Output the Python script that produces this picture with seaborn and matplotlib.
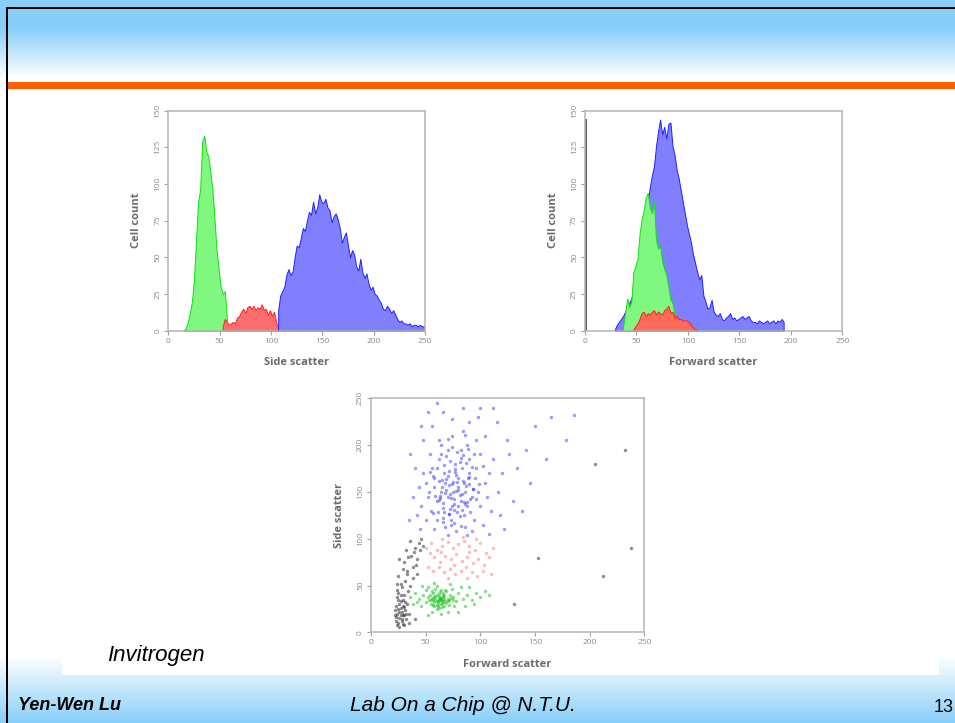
import numpy as np
import seaborn as sns
import matplotlib.pyplot as plt
from matplotlib.patches import Rectangle

sns.set_style("white")
plt.rcParams['font.family'] = ['Open Sans', 'DejaVu Sans']

# ---- histogram data (bin start, counts every 2 channels) ----
ssc_green_start = 14
ssc_green = [0, 2, 6, 12, 20, 35, 62, 88, 96, 129, 133, 122, 119, 108, 96, 76, 55, 42, 30, 25, 27, 9]
ssc_red_start = 52
ssc_red = [3, 8, 6, 4, 5, 6, 5, 9, 10, 13, 15, 12, 16, 17, 15, 17, 14, 16, 15, 18, 14, 15, 11, 14,
           10, 13, 6, 2]
ssc_blue_start = 106
ssc_blue = [14, 24, 27, 30, 38, 42, 38, 40, 50, 58, 57, 63, 70, 68, 75, 81, 79, 88, 80, 84, 93, 88,
            87, 90, 84, 82, 74, 78, 80, 76, 70, 60, 64, 67, 58, 50, 55, 52, 44, 41, 49, 40, 36, 39,
            32, 28, 30, 25, 24, 21, 19, 15, 14, 17, 15, 12, 14, 11, 8, 6, 7, 5, 5, 4, 5, 3, 4, 4,
            3, 4, 3, 3]

fsc_grey_start = 0
fsc_grey = [144]
fsc_blue_start = 28
fsc_blue = [1, 4, 6, 8, 10, 13, 16, 19, 22, 28, 32, 38, 46, 55, 66, 76, 88, 98, 106, 112, 126, 136,
            144, 134, 139, 131, 141, 142, 126, 120, 110, 104, 96, 88, 80, 72, 66, 60, 52, 46, 40, 35,
            38, 24, 20, 15, 16, 21, 13, 11, 10, 12, 8, 7, 9, 10, 12, 8, 9, 7, 8, 9, 10, 8, 9, 10, 7,
            6, 6, 5, 7, 6, 5, 6, 7, 5, 6, 7, 5, 7, 6, 8, 6]
fsc_green_start = 36
fsc_green = [3, 12, 22, 16, 20, 40, 44, 49, 66, 76, 82, 91, 94, 84, 80, 88, 62, 56, 58, 47, 42, 38,
             30, 21, 19, 11, 4]
fsc_red_start = 46
fsc_red = [1, 3, 5, 8, 12, 13, 10, 12, 11, 13, 14, 11, 13, 12, 11, 14, 15, 17, 12, 13, 9, 10, 8, 8,
           7, 7, 7, 6, 4, 2, 1, 1]

# ---- dot plot data (forward scatter, side scatter) ----
blue_x = [75, 70, 80, 68, 82, 72, 78, 64, 86, 74, 66, 84, 76, 71, 88, 62, 79, 90, 69, 81, 73, 77, 60,
          92, 67, 85, 74, 83, 58, 95, 55, 98, 62, 90, 50, 100, 66, 86, 56, 96, 70, 82, 52, 104, 60, 94,
          78, 64, 88, 48, 106, 54, 100, 74, 58, 92, 46, 108, 68, 84, 50, 110, 62, 96, 44, 102, 40, 112,
          56, 90, 74, 42, 116, 48, 104, 66, 84, 120, 38, 118, 52, 98, 108, 60, 126, 36, 70, 130, 45,
          124, 134, 88, 115, 142, 145, 150, 165, 178, 122, 35, 138, 160, 100, 46, 112, 186,
          72, 80, 63, 87, 76, 69, 83, 65, 91, 59, 79, 71, 93, 57, 85, 77, 67, 81, 73, 89,
          61, 66, 71, 76, 81, 86, 91, 63, 68, 73, 78, 83, 88, 93, 65, 70, 75, 80, 85, 90, 60, 67, 72,
          77, 82, 87, 92, 64, 69, 74, 79, 84, 89, 62, 71, 80, 58, 96, 54, 99, 57, 94, 53, 102, 70, 86,
          76, 66, 82, 90]
blue_y = [150, 145, 155, 160, 140, 132, 168, 150, 150, 158, 138, 162, 142, 172, 135, 162, 128, 158,
          152, 147, 120, 180, 140, 145, 170, 125, 135, 175, 155, 165, 130, 150, 185, 185, 160, 135,
          118, 112, 175, 175, 195, 195, 145, 160, 120, 120, 108, 200, 200, 170, 145, 190, 190, 210,
          110, 108, 135, 170, 112, 215, 120, 130, 205, 205, 155, 115, 175, 185, 220, 225, 228, 125,
          150, 205, 210, 235, 240, 170, 145, 125, 235, 230, 105, 245, 190, 190, 104, 140, 110, 205,
          175, 104, 225, 195, 160, 220, 230, 205, 110, 120, 130, 185, 240, 220, 240, 232,
          148, 152, 143, 156, 137, 164, 131, 155, 142, 146, 161, 126, 153, 167, 139, 171, 128, 182,
          115, 165,
          128, 133, 126, 131, 124, 137, 129, 146, 149, 144, 151, 148, 139, 153, 163, 167, 161, 165,
          159, 170, 176, 179, 183, 174, 186, 181, 177, 191, 188, 198, 193, 189, 196, 141, 157, 135,
          165, 142, 171, 158, 127, 190, 150, 178, 206, 211, 117, 122, 114, 166]
red_x = [55, 60, 65, 70, 75, 80, 85, 90, 95, 100, 105, 58, 63, 68, 73, 78, 83, 88, 93, 98, 103, 108,
         52, 57, 62, 67, 72, 77, 82, 87, 92, 97, 102, 110, 54, 65, 84, 96, 70, 88, 50, 112, 76, 64, 90]
red_y = [95, 88, 92, 96, 90, 94, 98, 92, 88, 95, 85, 80, 75, 82, 78, 84, 76, 80, 74, 78, 72, 80, 70,
         66, 70, 64, 68, 62, 66, 70, 64, 60, 66, 62, 85, 100, 102, 100, 58, 58, 90, 90, 72, 86, 86]
green_x = [62, 58, 66, 60, 64, 56, 68, 61, 63, 55, 70, 59, 65, 57, 67, 53, 72, 60, 64, 69, 62, 58, 66,
           54, 71, 50, 75, 48, 78, 52, 74, 46, 80, 56, 70, 44, 84, 60, 76, 50, 88, 42, 82, 64, 92, 47,
           86, 40, 96, 58, 72, 38, 100, 90, 80, 104, 36, 108, 52, 94,
           61, 63, 59, 65, 57, 67, 62, 60, 64, 66,
           55, 58, 61, 64, 67, 70, 73, 57, 60, 63, 66, 69, 52, 75, 62, 59, 65, 68, 56, 71]
green_y = [35, 32, 38, 40, 30, 37, 33, 28, 43, 30, 36, 36, 34, 42, 28, 35, 40, 25, 45, 31, 38, 28, 42,
           40, 34, 32, 38, 40, 33, 48, 46, 28, 42, 22, 22, 36, 36, 50, 28, 45, 40, 32, 48, 20, 35, 50,
           28, 42, 42, 53, 52, 30, 38, 48, 22, 44, 38, 40, 18, 30,
           33, 37, 39, 31, 34, 36, 41, 29, 35, 39,
           34, 38, 31, 36, 40, 33, 37, 29, 33, 37, 32, 44, 38, 34, 26, 46, 27, 45, 44, 29]
black_x = [24, 26, 28, 25, 27, 23, 29, 26, 30, 24, 28, 31, 25, 27, 23, 32, 26, 29, 24, 30, 33, 28, 35,
           22, 27, 31, 25, 29, 33, 36, 30, 34, 26, 38, 40, 32, 44, 42, 36, 46, 48, 38, 24, 42, 35, 40,
           30, 23, 25, 27, 29, 31, 24, 26, 28, 30, 32, 22, 27, 25, 29, 34, 37, 41, 39, 45, 33,
           153, 205, 232, 238, 212, 131]
black_y = [20, 15, 22, 25, 18, 12, 28, 30, 18, 8, 12, 24, 35, 40, 28, 14, 6, 34, 45, 40, 30, 48, 20,
           18, 52, 55, 60, 68, 62, 50, 75, 80, 78, 70, 90, 88, 95, 78, 98, 100, 92, 58, 52, 62, 10, 14,
           8, 16, 10, 26, 19, 32, 38, 22, 14, 27, 20, 24, 33, 42, 9, 44, 82, 72, 86, 88, 66,
           79, 180, 195, 90, 60, 30]

W, H = 955, 723
fig = plt.figure(figsize=(W / 100, H / 100), dpi=100)

# slide background
bg = fig.add_axes([0, 0, 1, 1], zorder=-10)
bg.set_xlim(0, W)
bg.set_ylim(H, 0)
bg.axis('off')
rows = np.arange(H)
t = np.interp(rows, [0, 28, 78, 655, 723], [1, 1, 0, 0, 1])
sky = np.array([0.53, 0.81, 0.98])
grad = 1 - t[:, None] * (1 - sky[None, :])
bg.imshow(grad[:, None, :], extent=(0, W, H, 0), aspect='auto', interpolation='bilinear')
bg.add_patch(Rectangle((62, 89), 877, 586, color='white', lw=0))
bg.add_patch(Rectangle((6, 82), 949, 7, color='#ff5f00', lw=0))
bg.add_patch(Rectangle((6, 6.8), 949, 2.6, color='black', lw=0))
bg.add_patch(Rectangle((5.8, 6.8), 2.6, 717, color='black', lw=0))

slide_font = ['Liberation Sans', 'DejaVu Sans']
bg.text(107, 661, "Invitrogen", fontsize=16, style='italic', family=slide_font, va='baseline',
        color='black')
bg.text(18, 710, "Yen-Wen Lu", fontsize=13, style='italic', weight='bold', family=slide_font,
        va='baseline', color='black')
bg.text(463, 711, "Lab On a Chip @ N.T.U.", fontsize=15, style='italic', family=slide_font,
        ha='center', va='baseline', color='black')
bg.text(934, 712, "13", fontsize=13, family=slide_font, va='baseline', color='black')


def style_axes(ax, yticks, xlabel, ylabel):
    ax.set_facecolor('white')
    ax.set_xlim(0, 250)
    ax.set_xticks([0, 50, 100, 150, 200, 250])
    ax.set_yticks(yticks)
    for s in ax.spines.values():
        s.set_color('#b4b4b4')
        s.set_linewidth(1.1)
    ax.tick_params(direction='out', length=3, width=0.8, color='#a0a0a0', labelsize=6,
                   labelcolor='#8a8a8a', pad=2, bottom=True, left=True)
    for lab in ax.get_yticklabels():
        lab.set_rotation(90)
        lab.set_va('center')
    ax.set_xlabel(xlabel, fontsize=8, weight='bold', color='#6b6b6b', labelpad=9)
    ax.set_ylabel(ylabel, fontsize=8, weight='bold', color='#6b6b6b', labelpad=9)


def hist(ax, start, counts, face, edge, width=2):
    pos = start + width / 2 + width * np.arange(len(counts))
    sns.histplot(x=pos, weights=counts, binwidth=width,
                 binrange=(start, start + width * len(counts)),
                 element='poly', fill=True, color=face, alpha=1, edgecolor=edge,
                 linewidth=0.7, ax=ax)


# side scatter histogram
ax1 = fig.add_axes([168.3 / W, 1 - 330.7 / H, 256.7 / W, 220 / H])
hist(ax1, ssc_green_start, ssc_green, '#80f880', '#10e010')
hist(ax1, ssc_red_start, ssc_red, '#ff6e6e', '#ff2020')
hist(ax1, ssc_blue_start, ssc_blue, '#8080ff', '#2020ff')
ax1.set_ylim(0, 150)
style_axes(ax1, [0, 25, 50, 75, 100, 125, 150], 'Side scatter', 'Cell count')

# forward scatter histogram
ax2 = fig.add_axes([585 / W, 1 - 330.7 / H, 257.3 / W, 220 / H])
sns.histplot(x=[fsc_grey_start + 0.75], weights=fsc_grey, binwidth=1.5,
             binrange=(fsc_grey_start, fsc_grey_start + 1.5), element='bars', fill=True,
             color='#606060', alpha=1, linewidth=0, ax=ax2)
hist(ax2, fsc_blue_start, fsc_blue, '#8080ff', '#2020ff')
hist(ax2, fsc_green_start, fsc_green, '#80f880', '#10e010')
hist(ax2, fsc_red_start, fsc_red, '#ff6a5a', '#ff2010')
ax2.set_ylim(0, 150)
style_axes(ax2, [0, 25, 50, 75, 100, 125, 150], 'Forward scatter', 'Cell count')

# dot plot
ax3 = fig.add_axes([371 / W, 1 - 632.3 / H, 273.3 / W, 234 / H])
dot = dict(s=6, linewidth=0, ax=ax3)
sns.scatterplot(x=black_x, y=black_y, color='#303030', alpha=0.55, **dot)
sns.scatterplot(x=green_x, y=green_y, color='#10c010', alpha=0.5, **dot)
sns.scatterplot(x=red_x, y=red_y, color='#ff5050', alpha=0.4, **dot)
sns.scatterplot(x=blue_x, y=blue_y, color='#2020ff', alpha=0.45, **dot)
ax3.set_ylim(0, 250)
style_axes(ax3, [0, 50, 100, 150, 200, 250], 'Forward scatter', 'Side scatter')

fig.savefig('out.png', dpi=100)
